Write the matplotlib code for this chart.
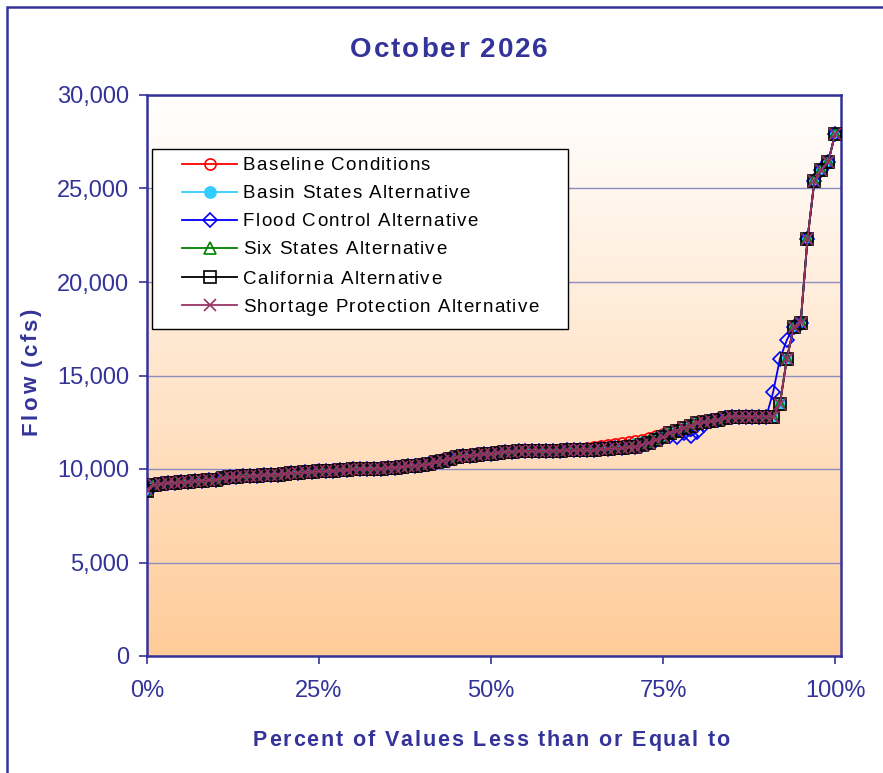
import numpy as np
import matplotlib
matplotlib.use("Agg")
from matplotlib import pyplot as plt
from matplotlib.colors import LinearSegmentedColormap
from matplotlib.patches import Rectangle
from matplotlib.lines import Line2D
from matplotlib.ticker import FuncFormatter
from matplotlib.font_manager import FontProperties, findfont, get_font

plt.rcParams['font.family'] = ['Liberation Sans', 'DejaVu Sans']

navy = '#333399'
W, H = 883, 773

# flow (cfs) sorted, one value per 1% of traces
baseline = [8880, 9150, 9200, 9330, 9340, 9360, 9380, 9430, 9460, 9400,
            9420, 9500, 9550, 9570, 9600, 9620, 9640, 9660, 9680, 9700,
            9750, 9780, 9800, 9820, 9850, 9870, 9880, 9900, 9920, 9950,
            9980, 9990, 10000, 10010, 10020, 10050, 10080, 10100, 10150, 10180,
            10200, 10250, 10410, 10510, 10610, 10680, 10740, 10760, 10800, 10780,
            10800, 10880, 10920, 10930, 10940, 10950, 10950, 10960, 10970, 10980,
            10980, 10990, 10990, 11000, 11100, 11150, 11250, 11300, 11350, 11400,
            11450, 11500, 11550, 11650, 11750, 11850, 11950, 12100, 12200, 12300,
            12450, 12500, 12550, 12600, 12750, 12800, 12800, 12800, 12800, 12800,
            12800, 12800, 13500, 15900, 17600, 17800, 22300, 25400, 26000, 26400, 27900]

basin_states = [8880, 9150, 9200, 9250, 9260, 9280, 9300, 9350, 9380, 9400,
                9420, 9500, 9550, 9570, 9600, 9620, 9640, 9660, 9680, 9700,
                9750, 9780, 9800, 9820, 9850, 9870, 9880, 9900, 9920, 9950,
                9980, 9990, 10000, 10010, 10020, 10050, 10080, 10100, 10150, 10180,
                10200, 10250, 10350, 10450, 10550, 10620, 10680, 10700, 10750, 10780,
                10800, 10880, 10920, 10930, 10940, 10950, 10950, 10960, 10970, 10980,
                10980, 10990, 10990, 11000, 11000, 11000, 11050, 11080, 11100, 11120,
                11250, 11320, 11420, 11520, 11650, 11800, 11950, 12050, 12200, 12300,
                12450, 12500, 12550, 12600, 12750, 12800, 12800, 12800, 12800, 12800,
                12800, 12800, 13500, 15900, 17600, 17800, 22300, 25400, 26000, 26400, 27900]

flood_control = [8880, 9150, 9200, 9250, 9260, 9280, 9300, 9350, 9380, 9400,
                 9420, 9500, 9550, 9570, 9600, 9620, 9640, 9660, 9680, 9700,
                 9750, 9780, 9800, 9820, 9850, 9870, 9880, 9900, 9920, 9950,
                 9980, 9990, 10000, 10010, 10020, 10050, 10080, 10100, 10150, 10180,
                 10200, 10250, 10350, 10450, 10550, 10620, 10680, 10700, 10750, 10780,
                 10800, 10880, 10920, 10930, 10940, 10950, 10950, 10960, 10970, 10980,
                 10980, 10990, 10990, 11000, 11000, 11000, 11050, 11080, 11100, 11120,
                 11150, 11200, 11300, 11400, 11550, 11700, 11750, 11700, 11900, 11750,
                 12000, 12350, 12550, 12600, 12750, 12800, 12800, 12800, 12800, 12800,
                 12800, 14100, 15900, 16900, 17600, 17800, 22300, 25400, 26000, 26400, 27900]

six_states = [8880, 9150, 9200, 9250, 9260, 9280, 9300, 9350, 9380, 9400,
              9420, 9500, 9550, 9570, 9600, 9620, 9640, 9660, 9680, 9700,
              9750, 9780, 9800, 9820, 9850, 9870, 9880, 9900, 9920, 9950,
              9980, 9990, 10000, 10010, 10020, 10050, 10080, 10100, 10150, 10180,
              10200, 10250, 10350, 10450, 10550, 10620, 10680, 10700, 10750, 10780,
              10800, 10880, 10920, 10930, 10940, 10950, 10950, 10960, 10970, 10980,
              10980, 10990, 10990, 11000, 11000, 11000, 11050, 11080, 11100, 11120,
              11220, 11300, 11400, 11500, 11650, 11780, 11950, 12050, 12200, 12300,
              12450, 12500, 12550, 12600, 12750, 12800, 12800, 12800, 12800, 12800,
              12800, 12800, 13500, 15900, 17600, 17800, 22300, 25400, 26000, 26400, 27900]

california = [8800, 9150, 9200, 9250, 9260, 9280, 9300, 9350, 9380, 9400,
              9420, 9500, 9550, 9570, 9600, 9620, 9640, 9660, 9680, 9700,
              9750, 9780, 9800, 9820, 9850, 9870, 9880, 9900, 9920, 9950,
              9980, 9990, 10000, 10010, 10020, 10050, 10080, 10100, 10150, 10180,
              10200, 10250, 10350, 10450, 10550, 10620, 10680, 10700, 10750, 10780,
              10800, 10880, 10920, 10930, 10940, 10950, 10950, 10960, 10970, 10980,
              10980, 10990, 10990, 11000, 11000, 11000, 11050, 11080, 11100, 11120,
              11150, 11200, 11300, 11400, 11550, 11700, 11900, 12050, 12200, 12300,
              12450, 12500, 12550, 12600, 12750, 12800, 12800, 12800, 12800, 12800,
              12800, 12800, 13500, 15900, 17600, 17800, 22300, 25400, 26000, 26400, 27900]

shortage_protection = [8880, 9150, 9200, 9250, 9260, 9280, 9300, 9350, 9380, 9400,
                       9420, 9500, 9550, 9570, 9600, 9620, 9640, 9660, 9680, 9700,
                       9750, 9780, 9800, 9820, 9850, 9870, 9880, 9900, 9920, 9950,
                       9980, 9990, 10000, 10010, 10020, 10050, 10080, 10100, 10150, 10180,
                       10200, 10250, 10350, 10450, 10550, 10620, 10680, 10700, 10750, 10780,
                       10800, 10880, 10920, 10930, 10940, 10950, 10950, 10960, 10970, 10980,
                       10980, 10990, 10990, 11000, 11000, 11000, 11050, 11080, 11100, 11120,
                       11150, 11200, 11300, 11400, 11550, 11700, 11900, 12050, 12200, 12300,
                       12450, 12500, 12550, 12600, 12750, 12800, 12800, 12800, 12800, 12800,
                       12800, 12800, 13500, 15900, 17600, 17800, 22300, 25400, 26000, 26400, 27900]

series = [
    ('Baseline Conditions', baseline, '#FF0000', 'o', 'none'),
    ('Basin States Alternative', basin_states, '#33CCFF', 'o', '#33CCFF'),
    ('Flood Control Alternative', flood_control, '#0000FF', 'D', 'none'),
    ('Six States Alternative', six_states, '#008000', '^', 'none'),
    ('California Alternative', california, '#000000', 's', 'none'),
    ('Shortage Protection Alternative', shortage_protection, '#993366', 'x', 'none'),
]


def advances(s, size, weight):
    # glyph advance widths in pixels (dpi 100)
    prop = FontProperties(family='Liberation Sans', size=size, weight=weight)
    font = get_font(findfont(prop))
    font.set_size(size, 100)
    return [font.load_char(ord(c)).linearHoriAdvance / 65536 for c in s]


def spaced_text(fig, s, x, y, size, weight='normal', color='black', track=0.0,
                center=True, vertical=False, zorder=6):
    # draws text with extra letter spacing; x, y in pixels from top-left, y is baseline
    adv = advances(s, size, weight)
    total = sum(adv) + track * (len(s) - 1)
    pos = -total / 2 if center else 0.0
    for c, a in zip(s, adv):
        if vertical:
            fx, fy = x / W, 1 - (y - pos) / H
            rot = 90
        else:
            fx, fy = (x + pos) / W, 1 - y / H
            rot = 0
        fig.text(fx, fy, c, fontsize=size, fontweight=weight, color=color,
                 ha='left', va='baseline', rotation=rot, rotation_mode='anchor',
                 zorder=zorder)
        pos += a + track


fig = plt.figure(figsize=(W / 100, H / 100), dpi=100)
ax = fig.add_axes([147 / W, 1 - 656 / H, (841 - 147) / W, (656 - 95) / H])

# gradient background, white at top to peach at bottom
cmap = LinearSegmentedColormap.from_list('peach', ['#FFCC99', '#FFFFFF'])
ax.imshow(np.linspace(0, 1, 256).reshape(-1, 1)[::-1], cmap=cmap, aspect='auto',
          extent=[0, 1, 0, 1], transform=ax.transAxes, zorder=0)

for label, vals, color, marker, face in series:
    pct = np.arange(len(vals)) / (len(vals) - 1)
    ms = {'D': 7, 'x': 9}.get(marker, 8)
    ax.plot(pct, vals, color=color, marker=marker, markersize=ms, linewidth=1.3,
            markerfacecolor=face, markeredgecolor=color, markeredgewidth=1.2, zorder=3)

ax.set_xlim(0, 1.0087)
ax.set_ylim(0, 30000)
ax.set_xticks([0, 0.25, 0.5, 0.75, 1.0])
ax.xaxis.set_major_formatter(FuncFormatter(lambda v, p: f'{v*100:.0f}%'))
ax.set_yticks(np.arange(0, 30001, 5000))
ax.yaxis.set_major_formatter(FuncFormatter(lambda v, p: f'{v:,.0f}'))
ax.grid(axis='y', color='#8C8CBE', linewidth=1.0, zorder=1)
ax.set_axisbelow(True)

for s in ax.spines.values():
    s.set_color(navy)
    s.set_linewidth(1.8)
ax.tick_params(axis='both', colors=navy, labelsize=17, length=6, width=1.2, direction='out')
ax.tick_params(axis='x', pad=11)
ax.tick_params(axis='y', pad=7)

# title and axis titles (letter spaced like the original)
spaced_text(fig, 'October 2026', 449, 57, 20, 'bold', navy, track=2.0)
spaced_text(fig, 'Percent of Values Less than or Equal to', 491, 746, 15.5, 'bold', navy, track=1.9)
spaced_text(fig, 'Flow (cfs)', 37, 372, 16, 'bold', navy, track=2.4, vertical=True)

# legend box drawn by hand
fig.patches.append(Rectangle((152 / W, 1 - 329 / H), (568 - 152) / W, (329 - 149) / H,
                             transform=fig.transFigure, facecolor='white',
                             edgecolor='black', linewidth=1.0, zorder=4))
row_y = [164, 192, 220, 248, 277, 305]
for (label, vals, color, marker, face), ry in zip(series, row_y):
    fy = 1 - ry / H
    ms = {'D': 7, 'x': 9}.get(marker, 8)
    fig.add_artist(Line2D([182 / W, 237 / W], [fy, fy], transform=fig.transFigure,
                          color=color, linewidth=1.3, zorder=5))
    fig.add_artist(Line2D([209.5 / W], [fy], transform=fig.transFigure, linestyle='none',
                          marker=marker, markersize=ms, markerfacecolor=face,
                          markeredgecolor=color, markeredgewidth=1.2, zorder=5))
    spaced_text(fig, label, 243, ry + 6.5, 13.5, 'normal', 'black', track=1.2, center=False)

# outer chart border
fig.patches.append(Rectangle((7 / W, -0.02), 1.0, 1 - 7 / H + 0.02, transform=fig.transFigure,
                             fill=False, edgecolor=navy, linewidth=1.8))

fig.savefig('out.png', dpi=100)
